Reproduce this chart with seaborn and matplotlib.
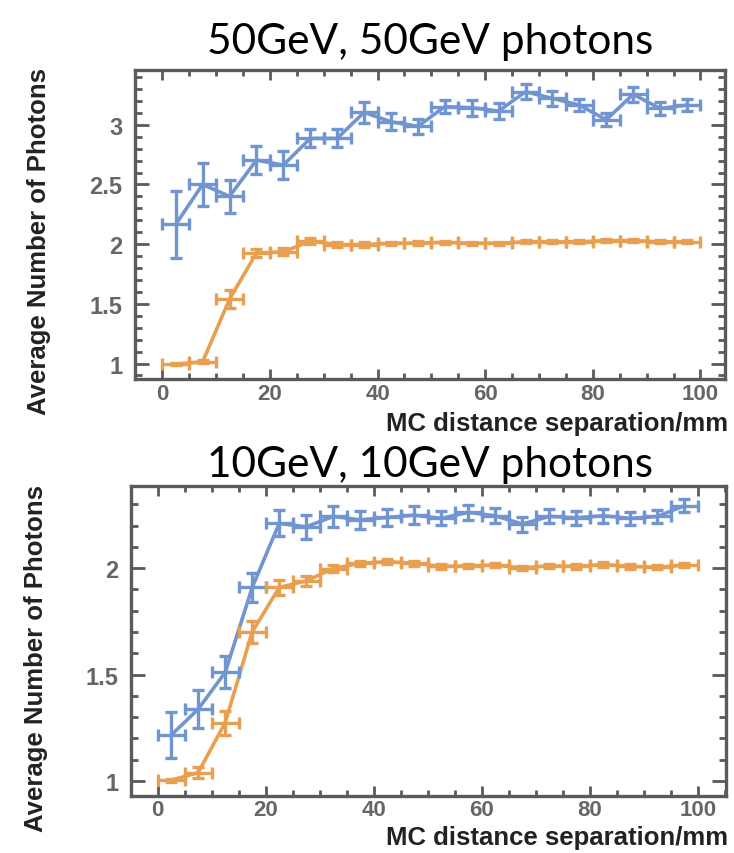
import matplotlib
matplotlib.use("Agg")
import matplotlib.pyplot as plt
import numpy as np
import pandas as pd
import seaborn as sns
from matplotlib.ticker import MultipleLocator, FuncFormatter

# bin centres of the 5 mm separation bins
BIN_CENTERS = [2.5, 7.5, 12.5, 17.5, 22.5, 27.5, 32.5, 37.5, 42.5, 47.5,
               52.5, 57.5, 62.5, 67.5, 72.5, 77.5, 82.5, 87.5, 92.5, 97.5]
BIN_HALF_WIDTH = 2.5

# 50GeV + 50GeV
blue_50 = [2.165, 2.50, 2.40, 2.704, 2.662, 2.886, 2.886, 3.104, 3.025, 2.987,
           3.152, 3.143, 3.115, 3.277, 3.221, 3.165, 3.042, 3.255, 3.137, 3.165]
blue_50_err = [0.28, 0.18, 0.14, 0.12, 0.115, 0.075, 0.075, 0.085, 0.07, 0.065,
               0.055, 0.067, 0.065, 0.065, 0.06, 0.053, 0.056, 0.06, 0.053, 0.053]
orange_50 = [0.995, 1.014, 1.539, 1.925, 1.936, 2.025, 1.997, 1.997, 2.006, 2.01,
             2.014, 2.008, 2.008, 2.02, 2.02, 2.02, 2.03, 2.03, 2.02, 2.02]
orange_50_err = [0.008, 0.012, 0.078, 0.036, 0.03, 0.025, 0.02, 0.018, 0.016, 0.015,
                 0.015, 0.014, 0.014, 0.014, 0.013, 0.013, 0.013, 0.013, 0.012, 0.012]

# 10GeV + 10GeV
blue_10 = [1.215, 1.337, 1.51, 1.909, 2.21, 2.194, 2.243, 2.227, 2.238, 2.249,
           2.234, 2.262, 2.246, 2.207, 2.243, 2.237, 2.246, 2.234, 2.243, 2.293]
blue_10_err = [0.108, 0.09, 0.075, 0.067, 0.061, 0.055, 0.05, 0.042, 0.042, 0.042,
               0.033, 0.035, 0.035, 0.035, 0.033, 0.033, 0.033, 0.032, 0.03, 0.03]
orange_10 = [1.003, 1.039, 1.274, 1.70, 1.909, 1.94, 1.998, 2.023, 2.03, 2.023,
             2.008, 2.011, 2.014, 2.001, 2.011, 2.008, 2.017, 2.008, 2.004, 2.014]
orange_10_err = [0.006, 0.024, 0.056, 0.053, 0.033, 0.025, 0.015, 0.012, 0.012, 0.011,
                 0.01, 0.01, 0.01, 0.01, 0.01, 0.01, 0.01, 0.01, 0.01, 0.01]

BLUE = "#7195d0"
ORANGE = "#e8a050"
FRAME = "#5a5a5a"
TICK_TEXT = "#666666"

sns.set_theme(style="white")
plt.rcParams["font.family"] = ["Liberation Sans", "DejaVu Sans"]


def draw_panel(ax, series, xlim, ylim, title, title_y):
    rows = []
    for name, vals, errs, color in series:
        for x, v in zip(BIN_CENTERS, vals):
            rows.append({"x": x, "y": v, "series": name})
    df = pd.DataFrame(rows)
    palette = {name: color for name, _, _, color in series}
    sns.lineplot(data=df, x="x", y="y", hue="series", palette=palette,
                 linewidth=2.6, legend=False, ax=ax, zorder=3)
    for name, vals, errs, color in series:
        ax.errorbar(BIN_CENTERS, vals, xerr=BIN_HALF_WIDTH, yerr=errs, fmt="none",
                    ecolor=color, elinewidth=2.4, capsize=4, capthick=2.4, zorder=3)

    ax.set_xlim(*xlim)
    ax.set_ylim(*ylim)
    ax.xaxis.set_major_locator(MultipleLocator(20))
    ax.xaxis.set_minor_locator(MultipleLocator(5))
    ax.yaxis.set_major_locator(MultipleLocator(0.5))
    ax.yaxis.set_minor_locator(MultipleLocator(0.1))
    ax.yaxis.set_major_formatter(FuncFormatter(lambda v, p: f"{v:g}"))

    for sp in ax.spines.values():
        sp.set_visible(True)
        sp.set_color(FRAME)
        sp.set_linewidth(2.4)
    ax.tick_params(which="both", direction="in", top=True, right=True,
                   bottom=True, left=True, color=FRAME, width=2,
                   labelcolor=TICK_TEXT)
    ax.tick_params(axis="x", which="major", length=7.5, pad=2.5, labelsize=16)
    ax.tick_params(axis="x", which="minor", length=4)
    ax.tick_params(axis="y", which="major", length=10, pad=9, labelsize=17)
    ax.tick_params(axis="y", which="minor", length=5)
    for lbl in ax.get_xticklabels() + ax.get_yticklabels():
        lbl.set_fontweight("bold")
    ax.set_xlabel("")
    ax.set_ylabel("")
    ax.figure.text(0.586, title_y, title, ha="center", va="center",
                   fontsize=30.5, family=["Lato", "DejaVu Sans"], color="black")


fig = plt.figure(figsize=(7.34, 8.54), dpi=100)

ax1 = fig.add_axes([0.184, 0.555, 0.804, 0.362])
draw_panel(ax1,
           [("50 blue", blue_50, blue_50_err, BLUE),
            ("50 orange", orange_50, orange_50_err, ORANGE)],
           (-5.05, 104.6), (0.87, 3.46), "50GeV, 50GeV photons", 0.951)

ax2 = fig.add_axes([0.178, 0.067, 0.811, 0.363])
draw_panel(ax2,
           [("10 blue", blue_10, blue_10_err, BLUE),
            ("10 orange", orange_10, orange_10_err, ORANGE)],
           (-5.0, 105.2), (0.93, 2.387), "10GeV, 10GeV photons", 0.455)

for y_lab in [0.503, 0.019]:
    fig.text(0.992, y_lab, "MC distance separation/mm", ha="right", va="center",
             fontsize=18.5, fontweight="bold", color="#222222")
for x_lab, y_ax in [(0.053, 0.717), (0.049, 0.229)]:
    fig.text(x_lab, y_ax, "Average Number of Photons", ha="center", va="center",
             rotation=90, fontsize=18.5, fontweight="bold", color="#222222")

fig.savefig("out.png", dpi=100)
